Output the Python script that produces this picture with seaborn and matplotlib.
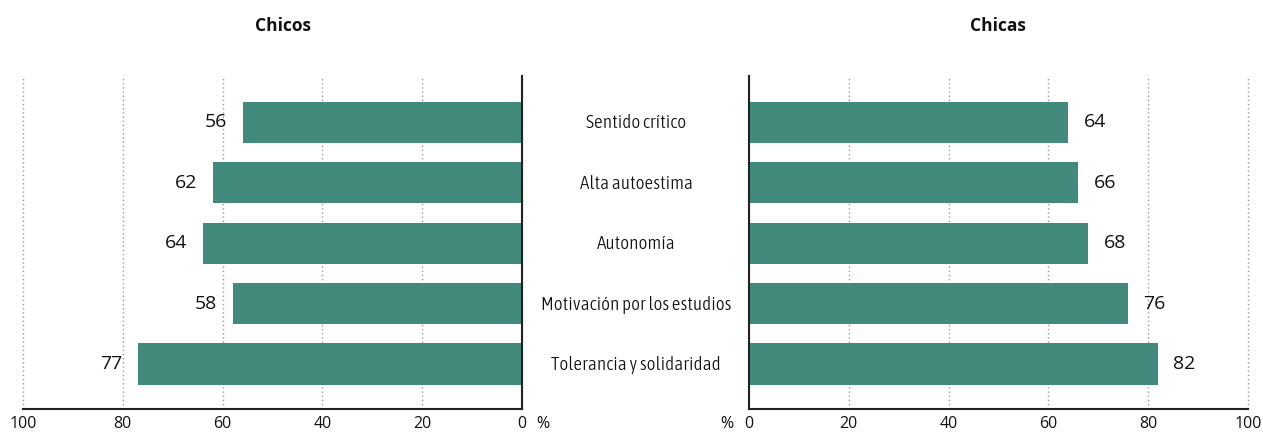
import matplotlib
matplotlib.use("Agg")
import matplotlib.pyplot as plt
import seaborn as sns
import pandas as pd

categories = ["Sentido crítico", "Alta autoestima", "Autonomía",
              "Motivación por los estudios", "Tolerancia y solidaridad"]
chicos = [56, 62, 64, 58, 77]
chicas = [64, 66, 68, 76, 82]
ticks = [0, 20, 40, 60, 80, 100]

sns.set_theme(style="white")
plt.rcParams['font.family'] = ['Open Sans', 'DejaVu Sans']

color = "#418A7C"
W, H = 1263, 432
fig = plt.figure(figsize=(W / 100, H / 100), dpi=100)

top, bottom = 76, 409
axL = fig.add_axes([23 / W, 1 - bottom / H, 499 / W, (bottom - top) / H])
axR = fig.add_axes([749 / W, 1 - bottom / H, 499 / W, (bottom - top) / H])

dfL = pd.DataFrame({"cat": categories, "val": chicos})
dfR = pd.DataFrame({"cat": categories, "val": chicas})

for ax, df, side in [(axL, dfL, "L"), (axR, dfR, "R")]:
    sns.barplot(data=df, y="cat", x="val", orient="h", color=color,
                saturation=1, width=0.68, ax=ax, order=categories, linewidth=0)
    ax.set_xlim(0, 100)
    ax.set_ylim(4.745, -0.77)
    ax.set_xticks(ticks)
    ax.set_xticklabels([str(t) for t in ticks], fontsize=11.5, color="#111111")
    ax.set_yticks([])
    ax.set_xlabel("")
    ax.set_ylabel("")
    ax.tick_params(axis="x", length=0, pad=5)
    ax.grid(axis="x", linestyle=(0, (1, 2)), color="#999999", linewidth=1)
    for gl in ax.get_xgridlines():
        gl.set_clip_on(False)
    ax.set_axisbelow(True)
    ax.spines["top"].set_visible(False)
    for s in ["bottom", "left", "right"]:
        ax.spines[s].set_color("#222222")
        ax.spines[s].set_linewidth(1.5)
    for i, v in enumerate(df["val"]):
        if side == "L":
            ax.annotate(str(v), (v, i), xytext=(-11, 0), textcoords="offset points",
                        ha="right", va="center", fontsize=14, color="#111111")
        else:
            ax.annotate(str(v), (v, i), xytext=(11, 0), textcoords="offset points",
                        ha="left", va="center", fontsize=14, color="#111111")

axL.invert_xaxis()
axL.spines["left"].set_visible(False)
axR.spines["right"].set_visible(False)

for i, c in enumerate(categories):
    y_pix = 122.5 + i * 60.4
    fig.text(636 / W, 1 - (y_pix + 1) / H, c, ha="center", va="center",
             fontsize=13.8, family=["Asap Condensed", "DejaVu Sans"],
             fontweight=300, color="#111111")

fig.text(283 / W, 1 - 26 / H, "Chicos", ha="center", va="center",
         fontsize=12.5, fontweight="bold", fontstretch="normal", color="#111111")
fig.text(998 / W, 1 - 26 / H, "Chicas", ha="center", va="center",
         fontsize=12.5, fontweight="bold", fontstretch="normal", color="#111111")
fig.text(543 / W, 1 - 424 / H, "%", ha="center", va="center", fontsize=11.5, color="#111111")
fig.text(727 / W, 1 - 424 / H, "%", ha="center", va="center", fontsize=11.5, color="#111111")

fig.savefig("out.png", dpi=100, facecolor="white")
